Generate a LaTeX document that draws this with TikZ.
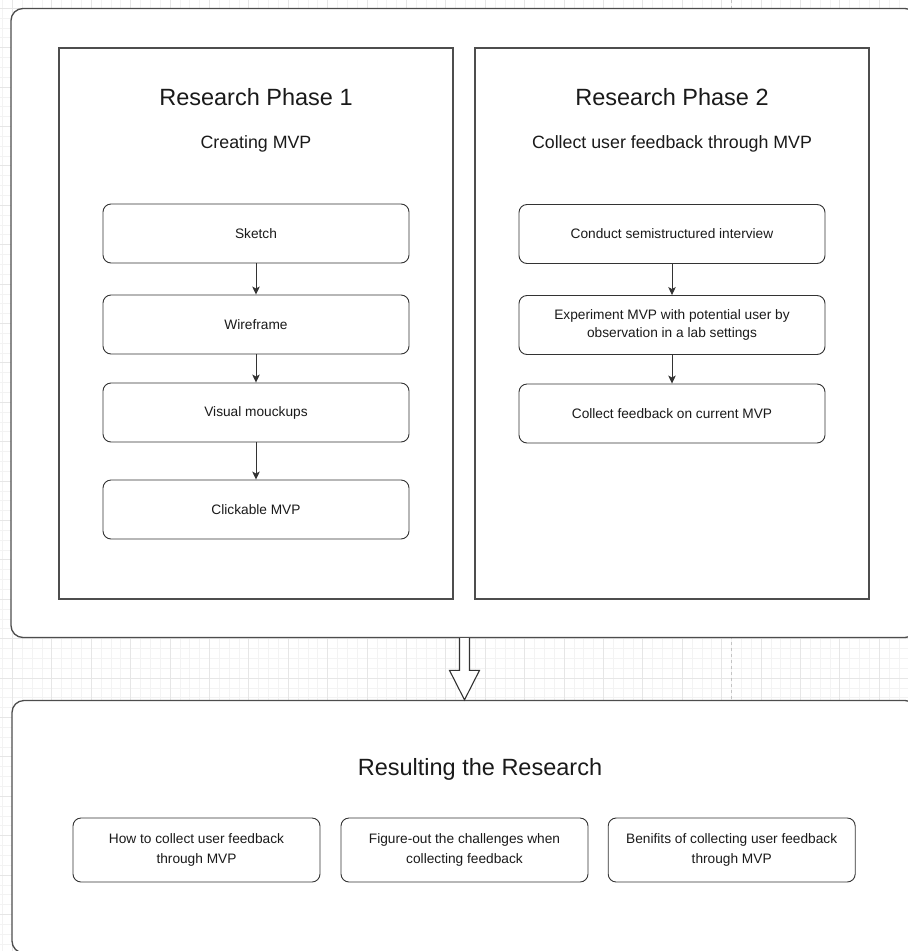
\documentclass[tikz,border=0pt]{standalone}
\usepackage{fontspec}
\setmainfont{Liberation Sans}
\usetikzlibrary{arrows.meta,calc}
\definecolor{ink}{HTML}{1A1A1A}
\definecolor{edge}{HTML}{333333}
\definecolor{frame}{HTML}{4D4D4D}
\definecolor{gridminor}{HTML}{F3F3F3}
\definecolor{gridmajor}{HTML}{E6E6E6}
\definecolor{pagebreak}{HTML}{C4C4C4}

\begin{document}
\begin{tikzpicture}[x=1pt,y=-1pt,
  outerbox/.style={draw=frame, line width=1.3pt, fill=white, rounded corners=12pt, inner sep=0pt},
  phasebox/.style={draw=frame, line width=1.1pt, fill=white, inner sep=0pt},
  stepbox/.style={draw=edge, line width=0.9pt, fill=white, rounded corners=8pt,
    minimum width=306pt, minimum height=59pt, inner sep=0pt, align=center, text=ink,
    font=\fontsize{13.7}{17.3}\selectfont},
  resultbox/.style={stepbox, minimum width=247pt, minimum height=64pt,
    font=\fontsize{13.7}{20}\selectfont},
  heading/.style={text=ink, font=\fontsize{23.5}{28}\selectfont, anchor=base, inner sep=0pt},
  subheading/.style={text=ink, font=\fontsize{17.8}{22}\selectfont, anchor=base, inner sep=0pt},
  flow/.style={draw=edge, line width=0.9pt, -{Stealth[length=8pt,width=7.5pt,inset=2pt]}},
  bigarrow/.style={draw=edge, line width=1.1pt, fill=white, line join=miter},
  minorline/.style={draw=gridminor, line width=0.7pt},
  majorline/.style={draw=gridmajor, line width=0.8pt},
]
\useasboundingbox (0,0) rectangle (908,951);
\clip (0,0) rectangle (908,951);

% canvas grid
\foreach \k in {-1,...,91} \draw[minorline] ({12.4+9.85*\k},0) -- ({12.4+9.85*\k},951);
\foreach \k in {-1,...,96} \draw[minorline] (0,{8.2+9.85*\k}) -- (908,{8.2+9.85*\k});
\foreach \k in {0,...,22} \draw[majorline] ({12.4+39.4*\k},0) -- ({12.4+39.4*\k},951);
\foreach \k in {0,...,24} \draw[majorline] (0,{8.2+39.4*\k}) -- (908,{8.2+39.4*\k});
% page break guide
\draw[pagebreak, dash pattern=on 3pt off 3pt, line width=0.8pt] (731,0) -- (731,951);

% containers
\node[outerbox, minimum width=906pt, minimum height=629pt] (phases) at (464,323) {};
\node[outerbox, minimum width=905pt, minimum height=252.5pt] (result) at (464.5,826.75) {};

\node[phasebox, minimum width=394pt, minimum height=551pt] (p1) at (256,323.5) {};
\node[phasebox, minimum width=394pt, minimum height=551pt] (p2) at (672,323.5) {};

% phase 1
\node[heading] (p1title) at (256,105) {Research Phase 1};
\node[subheading] (p1sub) at (256,148) {Creating MVP};
\node[stepbox] (sketch) at (256,233.5) {Sketch};
\node[stepbox] (wire) at (256,324.5) {Wireframe};
\node[stepbox] (visual) at (256,412.5) {Visual mouckups};
\node[stepbox] (click) at (256,509.5) {Clickable MVP};
\draw[flow] (sketch) -- (wire);
\draw[flow] (wire) -- (visual);
\draw[flow] (visual) -- (click);

% phase 2
\node[heading] (p2title) at (672,105) {Research Phase 2};
\node[subheading] (p2sub) at (672,148) {Collect user feedback through MVP};
\node[stepbox] (conduct) at (672,234) {Conduct semistructured interview};
\node[stepbox] (experiment) at (672,325) {Experiment MVP with potential user by\\observation in a lab settings};
\node[stepbox] (collect) at (672,413.5) {Collect feedback on current MVP};
\draw[flow] (conduct) -- (experiment);
\draw[flow] (experiment) -- (collect);

% hollow block arrow between the containers
\coordinate (tip) at (result.north);
\coordinate (shaftL) at ($(tip)+(-5,0)$);
\coordinate (shaftR) at ($(tip)+(5,0)$);
\draw[bigarrow] (shaftL |- phases.south) -- ($(shaftL)+(0,-29.5)$) -- ($(tip)+(-15,-29.5)$)
  -- (tip) -- ($(tip)+(15,-29.5)$) -- ($(shaftR)+(0,-29.5)$) -- (shaftR |- phases.south);

% results
\node[heading] (restitle) at (480,775) {Resulting the Research};
\node[resultbox] (how) at (196.5,850) {How to collect user feedback\\through MVP};
\node[resultbox] (challenges) at (464.5,850) {Figure-out the challenges when\\collecting feedback};
\node[resultbox] (benefits) at (731.7,850) {Benifits of collecting user feedback\\through MVP};
\end{tikzpicture}
\end{document}
